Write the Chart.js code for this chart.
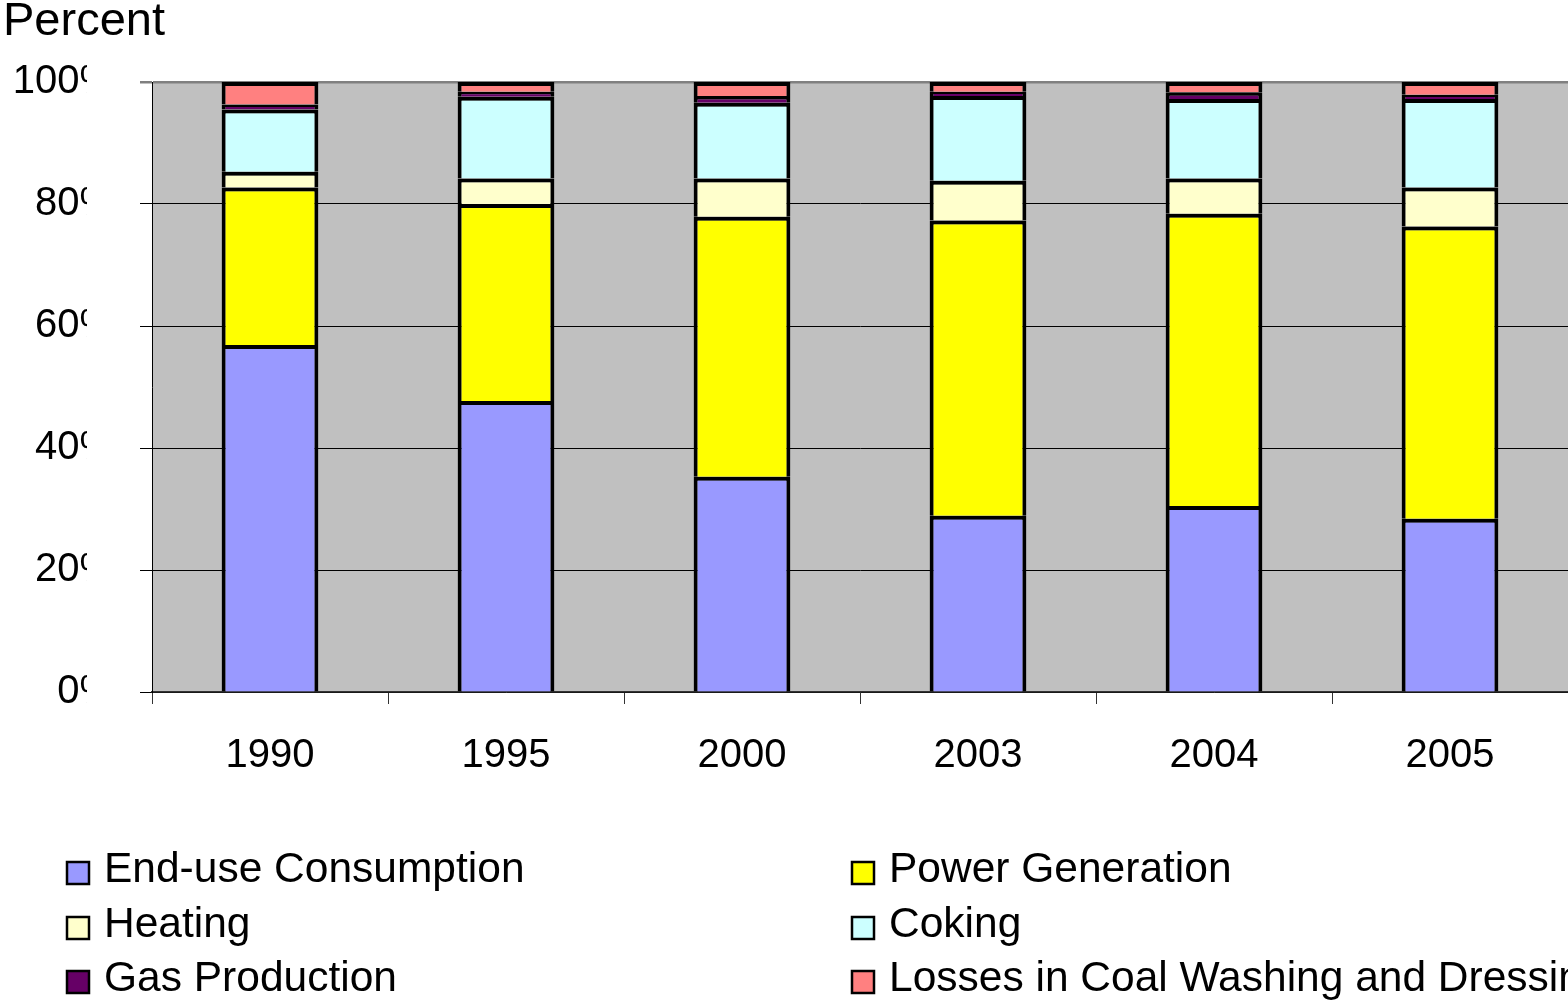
<!DOCTYPE html>
<html>
<head>
<meta charset="utf-8">
<script src="https://cdn.jsdelivr.net/npm/chart.js@4/dist/chart.umd.min.js"></script>
<style>
  html, body { margin: 0; padding: 0; background: #fff; }
  #wrap { width: 1568px; height: 1001px; position: relative; }
</style>
</head>
<body>
<div id="wrap"><canvas id="c" width="1568" height="1001"></canvas></div>
<script>
// Share of coal use by sector, percent of total
const years = ['1990', '1995', '2000', '2003', '2004', '2005'];
const endUse  = [56.9, 47.7, 35.3, 28.9, 30.5, 28.4];
const power   = [25.8, 32.3, 42.6, 48.4, 47.9, 47.9];
const heating = [2.6, 4.2, 6.3, 6.5, 5.8, 6.4];
const coking  = [10.2, 13.4, 12.4, 13.9, 13.0, 14.5];
const gasProd = [0.8, 0.8, 1.1, 0.7, 1.1, 0.7];
const losses  = [3.7, 1.6, 2.3, 1.6, 1.7, 2.1];
const seriesNames = ['End-use Consumption', 'Power Generation', 'Heating', 'Coking',
                     'Gas Production', 'Losses in Coal Washing and Dressing'];
const yTickValues = [0, 20, 40, 60, 80, 100];
const yTickLabels = ['0%', '20%', '40%', '60%', '80%', '100%'];
const axisTitle = 'Percent';

const FONT = 'Liberation Sans, Arial, Helvetica, sans-serif';
const colors = ['#9999FF', '#FFFF00', '#FFFFCC', '#CCFFFF', '#660066', '#FF8080'];
const values = [endUse, power, heating, coking, gasProd, losses];

const datasets = values.map((v, i) => ({
  label: seriesNames[i],
  data: v,
  backgroundColor: colors[i],
  borderColor: '#000',
  borderWidth: 4,
  barPercentage: 0.41,
  categoryPercentage: 1.0
}));

// grey plot area behind grid and bars
const plotBackground = {
  id: 'plotBackground',
  beforeDraw(chart) {
    const { ctx, chartArea: a } = chart;
    ctx.save();
    ctx.fillStyle = '#C0C0C0';
    ctx.fillRect(a.left, a.top, a.right - a.left, a.bottom - a.top);
    ctx.restore();
  }
};

// value-axis title and labels, cut off at the narrow label column
const yLabels = {
  id: 'yLabels',
  afterDraw(chart) {
    const { ctx } = chart;
    const y = chart.scales.y;
    ctx.save();
    ctx.font = '47px ' + FONT;
    ctx.fillStyle = '#000';
    ctx.textAlign = 'left';
    ctx.textBaseline = 'alphabetic';
    ctx.fillText(axisTitle, 3, 35);
    ctx.beginPath();
    ctx.rect(0, 50, 87, chart.height);
    ctx.clip();
    ctx.font = '40px ' + FONT;
    ctx.textAlign = 'right';
    ctx.textBaseline = 'middle';
    yTickValues.forEach((v, i) => {
      ctx.fillText(yTickLabels[i], 115, y.getPixelForValue(v));
    });
    ctx.restore();
  }
};

// two-column legend under the axis
const gridLegend = {
  id: 'gridLegend',
  afterDraw(chart) {
    const { ctx } = chart;
    const colX = [67, 852];
    const rowY = [870, 925, 979];
    ctx.save();
    ctx.font = '42.5px ' + FONT;
    ctx.textBaseline = 'middle';
    ctx.textAlign = 'left';
    chart.data.datasets.forEach((ds, i) => {
      const x = colX[i % 2];
      const y = rowY[Math.floor(i / 2)];
      ctx.fillStyle = ds.backgroundColor;
      ctx.fillRect(x, y - 8, 22, 22);
      ctx.strokeStyle = '#000';
      ctx.lineWidth = 2.5;
      ctx.strokeRect(x, y - 8, 22, 22);
      ctx.fillStyle = '#000';
      ctx.fillText(ds.label, x + 37, y);
    });
    ctx.restore();
  }
};

new Chart(document.getElementById('c'), {
  type: 'bar',
  data: { labels: years, datasets },
  plugins: [plotBackground, yLabels, gridLegend],
  options: {
    responsive: false,
    animation: false,
    devicePixelRatio: 1,
    layout: { padding: { left: 0, right: 0, top: 82, bottom: 0 } },
    plugins: {
      legend: { display: false },
      tooltip: { enabled: false },
      title: { display: false }
    },
    scales: {
      x: {
        stacked: true,
        offset: true,
        grid: {
          offset: true,
          drawOnChartArea: false,
          drawTicks: true,
          tickLength: 12,
          color: '#333'
        },
        border: { display: true, color: '#333', width: 1.5 },
        ticks: {
          color: '#000',
          padding: 28,
          maxRotation: 0,
          font: { family: FONT, size: 40 }
        },
        afterFit(scale) { scale.height = 309; }
      },
      y: {
        stacked: true,
        min: 0,
        max: 100,
        afterBuildTicks(scale) { scale.ticks = yTickValues.map(v => ({ value: v })); },
        grid: {
          drawTicks: true,
          tickLength: 12,
          color: ctx => (ctx.tick && ctx.tick.value === 100 ? '#808080' : '#000'),
          lineWidth: ctx => (ctx.tick && ctx.tick.value === 100 ? 2.5 : 1)
        },
        border: { display: true, color: '#000', width: 1 },
        ticks: { display: false },
        afterFit(scale) { scale.width = 152; }
      }
    }
  }
});
</script>
</body>
</html>
